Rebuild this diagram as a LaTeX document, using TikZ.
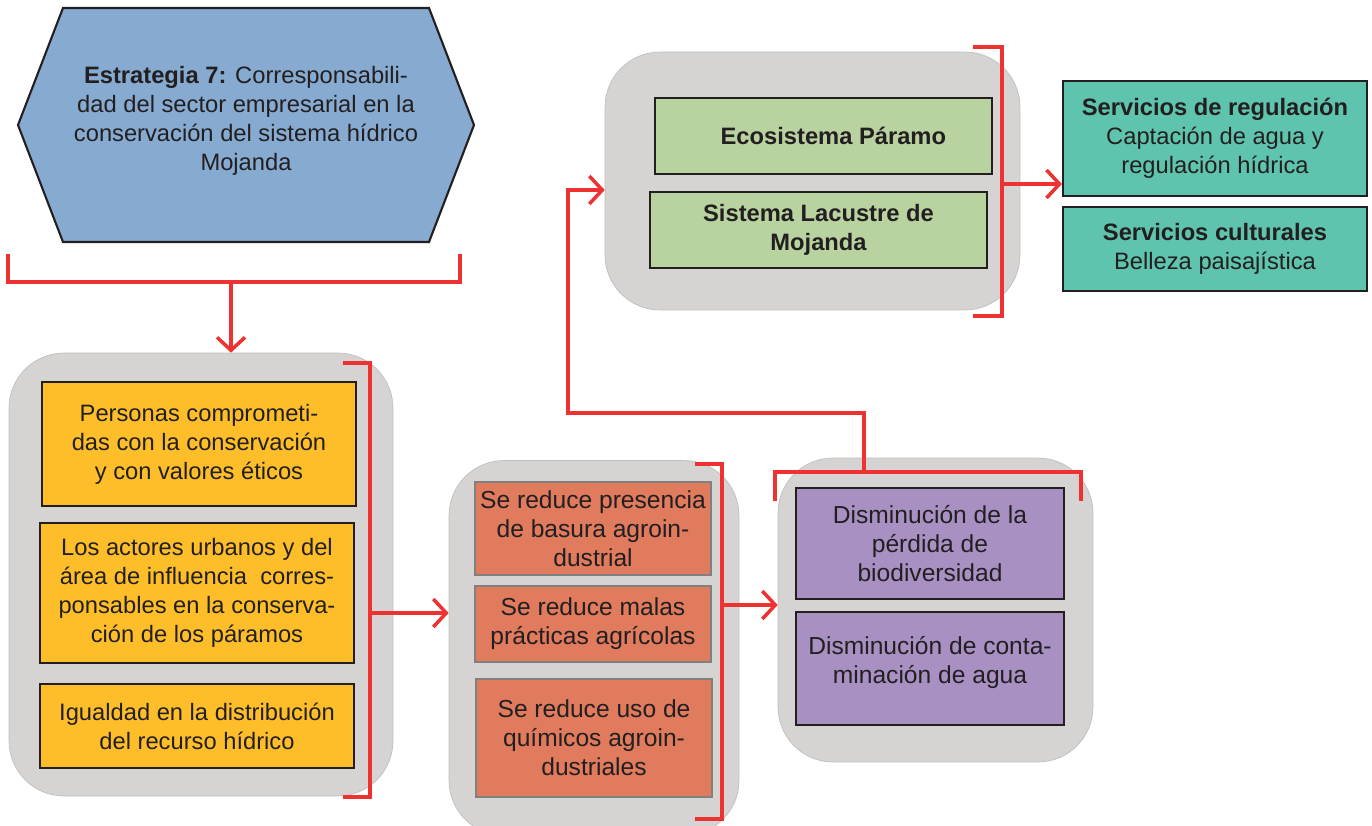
\documentclass[tikz,border=0pt]{standalone}
\usepackage{fontspec}
\setmainfont{Liberation Sans}
\usetikzlibrary{arrows.meta}
\definecolor{panelgray}{RGB}{213,212,211}
\definecolor{hexblue}{RGB}{134,170,208}
\definecolor{boxyellow}{RGB}{253,190,42}
\definecolor{boxorange}{RGB}{224,123,94}
\definecolor{boxpurple}{RGB}{168,144,195}
\definecolor{boxgreen}{RGB}{184,211,159}
\definecolor{boxteal}{RGB}{94,196,174}
\definecolor{linered}{RGB}{238,49,49}
\definecolor{edgedark}{RGB}{35,31,32}
\tikzset{%
  panel/.style   = {shape=rectangle, rounded corners=1.1cm, fill=panelgray,%
                    draw=panelgray!90!black, line width=0.4pt},%
  box/.style     = {shape=rectangle, draw=edgedark, line width=1.3pt,%
                    align=center, inner sep=2pt},%
  ybox/.style    = {box, fill=boxyellow, minimum width=6.28cm},%
  obox/.style    = {box, fill=boxorange, draw=gray, minimum width=4.72cm,%
                    font=\fontsize{14}{16.5}\selectfont},%
  pbox/.style    = {box, fill=boxpurple, minimum width=5.36cm,%
                    font=\fontsize{14}{16.5}\selectfont},%
  gbox/.style    = {box, fill=boxgreen, minimum width=6.74cm, minimum height=1.52cm,%
                    font=\bfseries\fontsize{13.5}{16.5}\selectfont},%
  tbox/.style    = {box, fill=boxteal, minimum width=6.08cm},%
  redline/.style = {draw=linered, line width=2.3pt},%
  redarrow/.style= {redline, line width=2pt,%
                    -{Straight Barb[length=2.6mm,width=5.6mm,line width=2pt]}}%
}
\begin{document}
\begin{tikzpicture}[x=0.02cm,y=-0.02cm,
    every node/.style={font=\fontsize{13.5}{16.5}\selectfont, text=edgedark}]
  \useasboundingbox (0,0) rectangle (1372,825);
  % strategy
  \draw[fill=hexblue, draw=edgedark, line width=1.2pt]
    (18,125) -- (63,8) -- (429,8) -- (474,125) -- (429,242) -- (63,242) -- cycle;
  \node[align=center] (strat) at (246,121)
    {\textbf{Estrategia 7:} Corresponsabili-\\dad del sector empresarial en la\\
     conservación del sistema hídrico\\Mojanda};
  % panels
  \node[panel, minimum width=7.68cm, minimum height=8.86cm] (actors) at (201,574.5) {};
  \node[panel, minimum width=5.8cm, minimum height=7.5cm] (reduce) at (594,648) {};
  \node[panel, minimum width=6.3cm, minimum height=6.08cm] (loss) at (935.5,610) {};
  \node[panel, minimum width=8.3cm, minimum height=5.16cm] (eco) at (812.5,181) {};
  % actors
  \node[ybox, minimum height=2.48cm] (a1) at (199,444)
    {Personas comprometi-\\das con la conservación\\y con valores éticos};
  \node[ybox, minimum height=2.8cm] (a2) at (197,593)
    {Los actores urbanos y del\\área de influencia\ \ corres-\\ponsables en la conserva-\\ción de los páramos};
  \node[ybox, minimum height=1.68cm] (a3) at (197,726)
    {Igualdad en la distribución\\del recurso hídrico};
  % reductions
  \node[obox, minimum height=1.86cm] (r1) at (593,528.5)
    {Se reduce presencia\\de basura agroin-\\dustrial};
  \node[obox, minimum height=1.52cm] (r2) at (593,624)
    {Se reduce malas\\prácticas agrícolas};
  \node[obox, minimum height=2.36cm] (r3) at (594,738)
    {Se reduce uso de\\químicos agroin-\\dustriales};
  % effects
  \node[pbox, minimum height=2.22cm] (d1) at (930,543.5)
    {Disminución de la\\pérdida de\\biodiversidad};
  \node[pbox, minimum height=2.26cm, text depth=0.36cm] (d2) at (930,668.5)
    {Disminución de conta-\\minación de agua};
  % ecosystem
  \node[gbox] (e1) at (823.5,136) {\ \ \ Ecosistema Páramo};
  \node[gbox] (e2) at (818.5,230) {Sistema Lacustre de\\Mojanda};
  % services
  \node[tbox, minimum height=2.3cm] (s1) at (1215,138.5)
    {\textbf{Servicios de regulación}\\Captación de agua y\\regulación hídrica};
  \node[tbox, minimum height=1.68cm] (s2) at (1215,249)
    {\textbf{Servicios culturales}\\Belleza paisajística};
  % brackets
  \coordinate (b0) at (231,282);
  \coordinate (b1) at (370,613);
  \coordinate (b2) at (722,605);
  \coordinate (b3) at (864,472);
  \coordinate (b4) at (1002,184);
  \draw[redline] (8,254) -- (8,282) -- (460,282) -- (460,254);
  \draw[redline] (343,363) -- (370,363) -- (370,797) -- (343,797);
  \draw[redline] (695,464) -- (722,464) -- (722,819) -- (695,819);
  \draw[redline] (775,501) -- (775,472) -- (1081,472) -- (1081,501);
  \draw[redline] (973,47) -- (1002,47) -- (1002,316) -- (973,316);
  % arrows
  \draw[redarrow] (b0) -- (actors.north -| b0);
  \draw[redarrow] (b1) -- (reduce.west |- b1);
  \draw[redarrow] (b2) -- (loss.west |- b2);
  \draw[redarrow] (b3) -- (864,413) -- (568,413) -- (568,190) -- (eco.west |- 0,190);
  \draw[redarrow] (b4) -- (s1.west |- b4);
\end{tikzpicture}
\end{document}
